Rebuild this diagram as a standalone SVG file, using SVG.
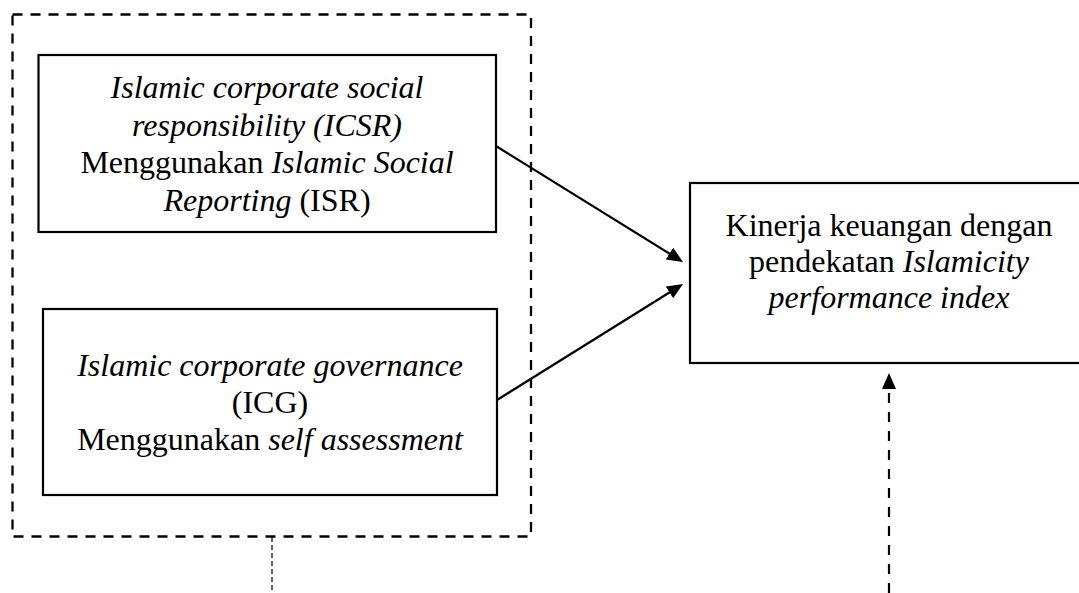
<svg xmlns="http://www.w3.org/2000/svg" width="1079" height="593" viewBox="0 0 1079 593">
<style>
.box{fill:#fff;stroke:#000;stroke-width:2.2}
.t{font-family:"Liberation Serif","Times New Roman",serif;font-size:32px;fill:#000;text-anchor:middle}
.i{font-style:italic}
.conn{stroke:#000;stroke-width:2.2;fill:none}
</style>
<defs>
<marker id="ah" markerUnits="userSpaceOnUse" markerWidth="18" markerHeight="16" refX="8" refY="7" orient="auto">
<path d="M0,0 L16,7 L0,14 z" fill="#000"/>
</marker>
</defs>
<rect width="1079" height="593" fill="#fff"/>
<g id="group">
<rect x="12.5" y="14.5" width="518.5" height="522" fill="none" stroke="#000" stroke-width="2.3" stroke-dasharray="10 8"/>
</g>
<g id="icsr">
<rect class="box" x="38.5" y="55" width="457.5" height="177"/>
<text class="t"><tspan class="i" x="267" y="98">Islamic corporate social</tspan><tspan class="i" x="267" y="136">responsibility (ICSR)</tspan><tspan x="267" y="173">Menggunakan <tspan class="i">Islamic Social</tspan></tspan><tspan x="267" y="211"><tspan class="i">Reporting</tspan> (ISR)</tspan></text>
</g>
<g id="icg">
<rect class="box" x="43" y="309" width="454" height="186"/>
<text class="t"><tspan class="i" x="270" y="376">Islamic corporate governance</tspan><tspan x="270" y="413">(ICG)</tspan><tspan x="270" y="450">Menggunakan <tspan class="i">self assessment</tspan></tspan></text>
</g>
<g id="kinerja">
<rect class="box" x="690" y="183" width="400" height="180"/>
<text class="t"><tspan x="889" y="236">Kinerja keuangan dengan</tspan><tspan x="889" y="272">pendekatan <tspan class="i">Islamicity</tspan></tspan><tspan class="i" x="889" y="308">performance index</tspan></text>
</g>
<g id="connectors">
<line class="conn" x1="496" y1="146" x2="676.2" y2="257.8" marker-end="url(#ah)"/>
<line class="conn" x1="497" y1="400" x2="676.2" y2="288.2" marker-end="url(#ah)"/>
<line class="conn" x1="889" y1="593" x2="889" y2="381" stroke-dasharray="10 9" marker-end="url(#ah)"/>
<line x1="272" y1="537" x2="272" y2="593" stroke="#000" stroke-width="1.2" stroke-dasharray="5 3"/>
</g>
</svg>
